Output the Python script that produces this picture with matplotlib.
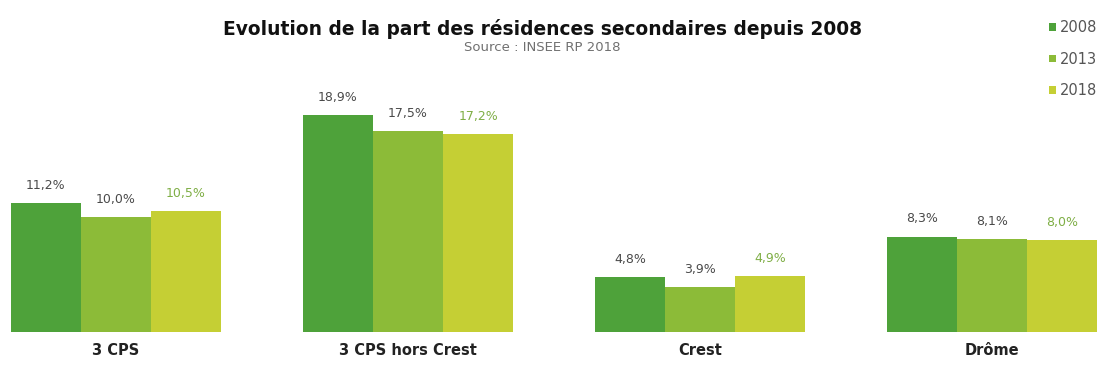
import numpy as np
import matplotlib.pyplot as plt

plt.rcParams['font.family'] = ['DejaVu Sans']

# Data
categories = ['3 CPS', '3 CPS hors Crest', 'Crest', 'Drôme']
years = ['2008', '2013', '2018']
share_2008 = [11.2, 18.9, 4.8, 8.3]
share_2013 = [10.0, 17.5, 3.9, 8.1]
share_2018 = [10.5, 17.2, 4.9, 8.0]

colors = ['#4ea23a', '#8cbb38', '#c5cf34']
label_colors = ['#4a4a4a', '#4a4a4a', '#7fae45']

fig = plt.figure(figsize=(10.99, 3.68), dpi=100)
ax = fig.add_axes([0, 36 / 368, 1, 332 / 368])

x = np.arange(len(categories))
width = 0.24
series = [share_2008, share_2013, share_2018]

for i, (vals, year) in enumerate(zip(series, years)):
    pos = x + (i - 1) * width
    ax.bar(pos, vals, width, color=colors[i], label=year, linewidth=0)
    for xp, v in zip(pos, vals):
        ax.annotate(f'{v:.1f}%'.replace('.', ','), (xp, v),
                    xytext=(0, 8), textcoords='offset points',
                    ha='center', va='bottom', fontsize=9,
                    color=label_colors[i])

ax.set_xlim(-116 / 292, 3 + 107 / 292)
ax.set_ylim(0, 332 / 11.5)
ax.axis('off')

for xc, name in zip(x, categories):
    ax.text(xc, -1.6, name, ha='center', va='center',
            fontsize=10.5, fontweight='bold', color='#222222')

fig.text(0.494, 0.92, 'Evolution de la part des résidences secondaires depuis 2008',
         ha='center', va='center', fontsize=13.4, fontweight='bold', color='#111111')
fig.text(0.493, 0.872, 'Source : INSEE RP 2018',
         ha='center', va='center', fontsize=9.5, color='#707070')

leg = fig.legend(loc='upper right', bbox_to_anchor=(1.0, 0.95), frameon=False,
                 fontsize=10.5, handlelength=0.45, handleheight=0.45,
                 handletextpad=0.3, labelspacing=1.15, borderpad=0,
                 borderaxespad=0.1)
for t in leg.get_texts():
    t.set_color('#555555')

fig.savefig('out.png', dpi=100)
